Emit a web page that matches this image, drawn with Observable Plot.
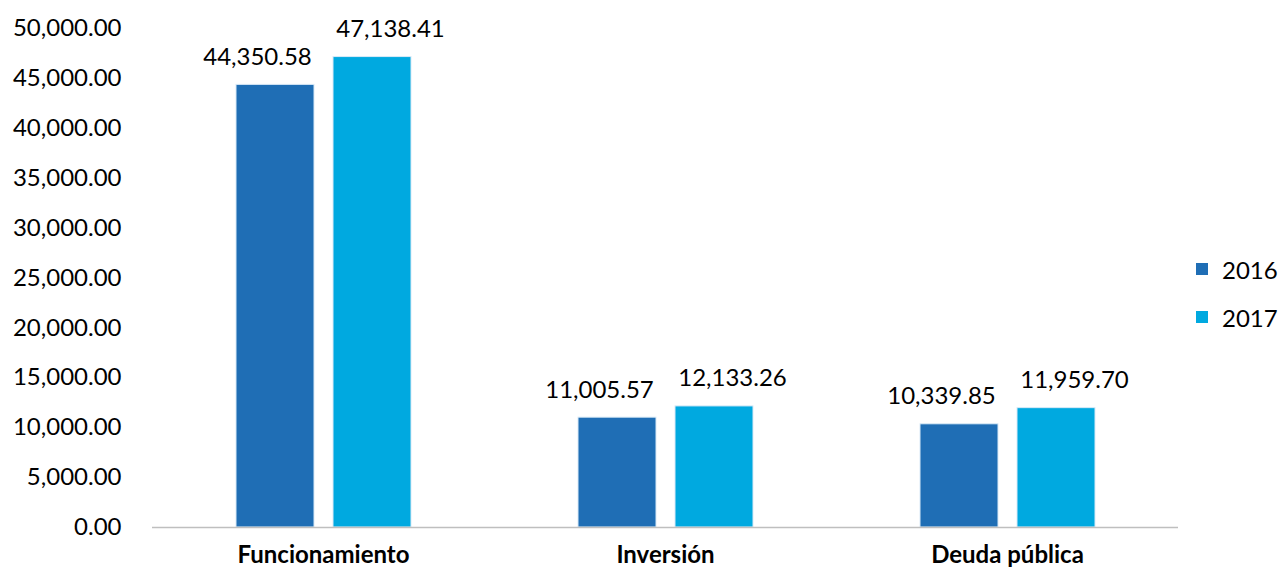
<!DOCTYPE html>
<html>
<head>
<meta charset="utf-8">
<script src="https://cdn.jsdelivr.net/npm/d3@7"></script>
<script src="https://cdn.jsdelivr.net/npm/@observablehq/plot@0.6"></script>
<style>
  body { margin: 0; background: #fff; font-family: Lato, sans-serif; }
  #wrap { position: relative; width: 1278px; height: 570px; }
  #legend { position: absolute; left: 1196px; top: 253px; font-family: Lato, sans-serif; font-size: 24px; color: #000; }
  .item { display: flex; align-items: center; height: 32px; margin-bottom: 16px; }
  .sw { width: 12px; height: 12px; margin-right: 14px; }
</style>
</head>
<body>
<div id="wrap"><div id="legend"></div></div>
<script>
const categories = ["Funcionamiento", "Inversión", "Deuda pública"];
const years = ["2016", "2017"];
const values2016 = [44350.58, 11005.57, 10339.85];
const values2017 = [47138.41, 12133.26, 11959.70];
const yTicks = [0, 5000, 10000, 15000, 20000, 25000, 30000, 35000, 40000, 45000, 50000];
const colors = ["#1F6EB5", "#00A9E0"];

const rows = [];
categories.forEach((c, i) => {
  rows.push({category: c, year: years[0], value: values2016[i]});
  rows.push({category: c, year: years[1], value: values2017[i]});
});
const rows2016 = rows.filter(d => d.year === years[0]);
const rows2017 = rows.filter(d => d.year === years[1]);
const fmt = d3.format(",.2f");

const labelOpts = {fx: "category", x: "year", y: "value", text: d => fmt(d.value), lineAnchor: "bottom", fill: "#000", fontSize: 24};

const chart = Plot.plot({
  width: 1278,
  height: 570,
  marginLeft: 151,
  marginRight: 100,
  marginTop: 28,
  marginBottom: 43,
  style: {fontFamily: "Lato, sans-serif", fontSize: "24px", color: "#000", background: "#fff"},
  fx: {domain: categories, paddingInner: 0, paddingOuter: 0, label: null},
  x: {domain: years, paddingInner: 0.2, paddingOuter: 0.86, axis: null},
  y: {domain: [0, 50000], label: null},
  color: {domain: years, range: colors},
  marks: [
    Plot.barY(rows, {fx: "category", x: "year", y: "value", fill: "year", stroke: "#d9eaf7", strokeWidth: 1}),
    Plot.ruleY([0], {stroke: "#bfbfbf", strokeWidth: 1.5}),
    Plot.text(rows2016, {...labelOpts, dx: -18, dy: -20}),
    Plot.text(rows2017, {...labelOpts, dx: 18, dy: -20}),
    Plot.axisY({ticks: yTicks, tickFormat: fmt, tickSize: 0, tickPadding: 31, fill: "#000", fontSize: 24}),
    Plot.axisFx({anchor: "bottom", tickSize: 0, tickPadding: 18, fontWeight: "bold", fill: "#000", fontSize: 24, label: null})
  ]
});
document.getElementById("wrap").prepend(chart);

const legend = document.getElementById("legend");
years.forEach((y, i) => {
  const item = document.createElement("div");
  item.className = "item";
  const sw = document.createElement("div");
  sw.className = "sw";
  sw.style.background = colors[i];
  const t = document.createElement("span");
  t.textContent = y;
  item.appendChild(sw);
  item.appendChild(t);
  legend.appendChild(item);
});
</script>
</body>
</html>
